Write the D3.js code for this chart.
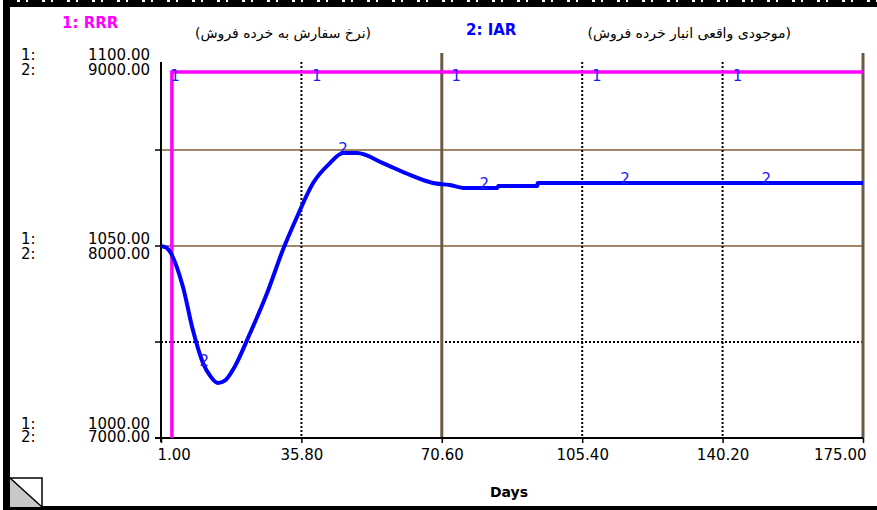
<!DOCTYPE html>
<html><head><meta charset="utf-8">
<script src="https://cdn.jsdelivr.net/npm/d3@7"></script>
<style>
html,body{margin:0;padding:0;background:#fff;}
svg{display:block;}
text{font-family:"DejaVu Sans",Verdana,sans-serif;}
</style></head>
<body>
<svg id="chart" width="877" height="510"></svg>
<script>
// ---- data ----
const seriesNames = ["1: RRR", "2: IAR"];
const seriesTitles = ["(نرخ سفارش به خرده فروش)", "(موجودی واقعی انبار خرده فروش)"];
const xTicks = [1, 35.8, 70.6, 105.4, 140.2, 175];
const xLabel = "Days";
const scale1Ticks = [1100, 1050, 1000];
const scale2Ticks = [9000, 8000, 7000];
// RRR (series 1): below scale at start, then a step up
const rrrT = [1, 3.7, 3.7, 175];
const rrrV = [0, 0, 1095.3, 1095.3];
// IAR (series 2)
const iarT = [1, 2.4, 6.45, 8.9, 11.4, 13.3, 15.1, 16.9, 18.8, 23.1, 27.3, 31.2, 34.7, 38.7, 42.9, 46.1, 49.6, 56.0, 62.7, 68.4, 72.6, 76.3, 84.4, 84.6, 94.2, 94.4, 175];
const iarV = [8000, 7990, 7786, 7562, 7391, 7320, 7286, 7300, 7354, 7547, 7755, 7979, 8151, 8328, 8432, 8484, 8484, 8432, 8370, 8328, 8318, 8302, 8302, 8312, 8312, 8328, 8328];
const marker1T = [4.5, 39.6, 74.2, 109.0, 143.9];
const marker2T = [11.7, 46.1, 81.1, 116.0, 151.0];

// ---- layout ----
const svg = d3.select("#chart");
const L = 161, R = 863, T = 54, B = 438;
const x = d3.scaleLinear().domain([1, 175]).range([L, R]);
const y1 = d3.scaleLinear().domain([1000, 1100]).range([B, T]);
const y2 = d3.scaleLinear().domain([7000, 9000]).range([B, T]);
const MAG = "#ff00ff", BLUE = "#0000ff", BROWN = "#6e5a44", LBROWN = "#a08466";

// frame
svg.append("rect").attr("x", 3).attr("y", 2).attr("width", 874).attr("height", 5).attr("fill", "#000");
svg.append("line").attr("x1", 3).attr("x2", 877).attr("y1", 1).attr("y2", 1).attr("stroke", "#000").attr("stroke-width", 2).attr("stroke-dasharray", "14,3,6,2");
svg.append("rect").attr("x", 3).attr("y", 2).attr("width", 7).attr("height", 508).attr("fill", "#000");
svg.append("rect").attr("x", 3).attr("y", 506).attr("width", 874).attr("height", 4).attr("fill", "#000");

// corner icon
svg.append("path").attr("d", "M10,478 L42,507 L10,507 Z").attr("fill", "#c8c8c8");
svg.append("path").attr("d", "M10,478 L42,478 L42,507 M10,478 L42,507").attr("fill", "none").attr("stroke", "#000").attr("stroke-width", 1.5);

const g = svg.append("g");

// horizontal grid
const hGrid = [{v: 8500, c: LBROWN, d: null}, {v: 8000, c: LBROWN, d: null}, {v: 7500, c: "#000", d: "2,2"}];
hGrid.forEach(h => {
  g.append("line").attr("x1", L).attr("x2", R).attr("y1", y2(h.v)).attr("y2", y2(h.v))
    .attr("stroke", h.c).attr("stroke-width", 2).attr("stroke-dasharray", h.d);
});
// vertical grid
const vGrid = [{t: 35.8, c: "#000", d: "2,2", w: 2, top: 62}, {t: 70.6, c: BROWN, d: null, w: 3, top: 53},
  {t: 105.4, c: "#000", d: "2,2", w: 2, top: 62}, {t: 140.2, c: "#000", d: "2,2", w: 2, top: 62}, {t: 175, c: BROWN, d: null, w: 3, top: 53}];
vGrid.forEach(v => {
  g.append("line").attr("x1", x(v.t)).attr("x2", x(v.t)).attr("y1", v.top).attr("y2", B)
    .attr("stroke", v.c).attr("stroke-width", v.w).attr("stroke-dasharray", v.d);
});

// axes
const xAxis = d3.axisBottom(x).tickValues(xTicks).tickFormat(d3.format(".2f")).tickSize(5).tickSizeOuter(0);
const xa = g.append("g").attr("transform", `translate(0,${B})`).call(xAxis);
xa.select(".domain").remove();
xa.selectAll(".tick line").attr("stroke", "#000").attr("stroke-width", 1.5);
xa.selectAll(".tick text").attr("font-size", 15).attr("font-family", "DejaVu Sans").attr("fill", "#000").attr("dy", "0.9em")
  .attr("text-anchor", (d, i) => i === 0 ? "start" : (i === xTicks.length - 1 ? "end" : "middle"))
  .attr("dx", (d, i) => i === 0 ? -4 : (i === xTicks.length - 1 ? 3 : 0));

g.append("line").attr("x1", 155).attr("x2", R).attr("y1", B).attr("y2", B).attr("stroke", "#000").attr("stroke-width", 2);
g.append("line").attr("x1", L).attr("x2", L).attr("y1", 62).attr("y2", B + 4).attr("stroke", "#000").attr("stroke-width", 2);
// y ticks
[8500, 8000, 7500].forEach(v => {
  g.append("line").attr("x1", 155).attr("x2", L).attr("y1", y2(v)).attr("y2", y2(v)).attr("stroke", "#000").attr("stroke-width", 1.5);
});

// y labels
const fmt = d3.format(".2f");
const offs = [[1, 16], [-7, 8], [-14, -1]];
scale2Ticks.forEach((v, i) => {
  const yy = y2(v);
  const a = offs[i];
  g.append("text").attr("x", 21).attr("y", yy + a[0]).attr("dy", "0.36em").attr("font-size", 15).text("1:");
  g.append("text").attr("x", 21).attr("y", yy + a[1]).attr("dy", "0.36em").attr("font-size", 15).text("2:");
  g.append("text").attr("x", 150).attr("y", yy + a[0]).attr("dy", "0.36em").attr("font-size", 15).attr("text-anchor", "end").text(fmt(scale1Ticks[i]));
  g.append("text").attr("x", 150).attr("y", yy + a[1]).attr("dy", "0.36em").attr("font-size", 15).attr("text-anchor", "end").text(fmt(v));
});

// legend / titles
svg.append("text").attr("x", 62).attr("y", 28).attr("font-size", 15).attr("font-weight", "bold").attr("fill", MAG).text(seriesNames[0]);
svg.append("text").attr("x", 466).attr("y", 35).attr("font-size", 15).attr("font-weight", "bold").attr("fill", BLUE).text(seriesNames[1]);
svg.append("text").attr("x", 371).attr("y", 38).attr("font-size", 14).attr("direction", "rtl").attr("text-anchor", "start").attr("fill", "#000").text(seriesTitles[0]);
svg.append("text").attr("x", 791).attr("y", 38).attr("font-size", 14).attr("direction", "rtl").attr("text-anchor", "start").attr("fill", "#000").text(seriesTitles[1]);

svg.append("text").attr("x", 509).attr("y", 497).attr("font-size", 14).attr("font-weight", "bold").attr("text-anchor", "middle").text(xLabel);

// clip
svg.append("clipPath").attr("id", "clip").append("rect").attr("x", L - 10).attr("y", T - 5).attr("width", R - L + 12).attr("height", B - T + 5);

const rrr = rrrT.map((t, i) => [t, rrrV[i]]);
const iar = iarT.map((t, i) => [t, iarV[i]]);
const plot = svg.append("g").attr("clip-path", "url(#clip)");
plot.append("path").datum(rrr).attr("fill", "none").attr("stroke", MAG).attr("stroke-width", 3.5)
  .attr("d", d3.line().x(d => x(d[0])).y(d => y1(d[1])));
plot.append("path").datum(iar).attr("fill", "none").attr("stroke", BLUE).attr("stroke-width", 4).attr("stroke-linejoin", "round")
  .attr("d", d3.line().x(d => x(d[0])).y(d => y2(d[1])).curve(d3.curveMonotoneX));

// markers
const interp = (ts, vs, t) => {
  for (let i = 1; i < ts.length; i++) if (t <= ts[i]) { const f = (t - ts[i-1]) / ((ts[i] - ts[i-1]) || 1); return vs[i-1] + f * (vs[i] - vs[i-1]); }
  return vs[vs.length - 1];
};
marker1T.forEach(t => {
  svg.append("text").attr("x", x(t)).attr("y", y1(1095.3) + 4).attr("dy", "0.36em").attr("text-anchor", "middle")
    .attr("font-size", 15).attr("fill", "#1a1aff").text("1");
});
marker2T.forEach(t => {
  svg.append("text").attr("x", x(t)).attr("y", y2(interp(iarT, iarV, t)) - 4).attr("dy", "0.36em").attr("text-anchor", "middle")
    .attr("font-size", 15).attr("fill", "#1a1aff").text("2");
});
</script>
</body></html>
